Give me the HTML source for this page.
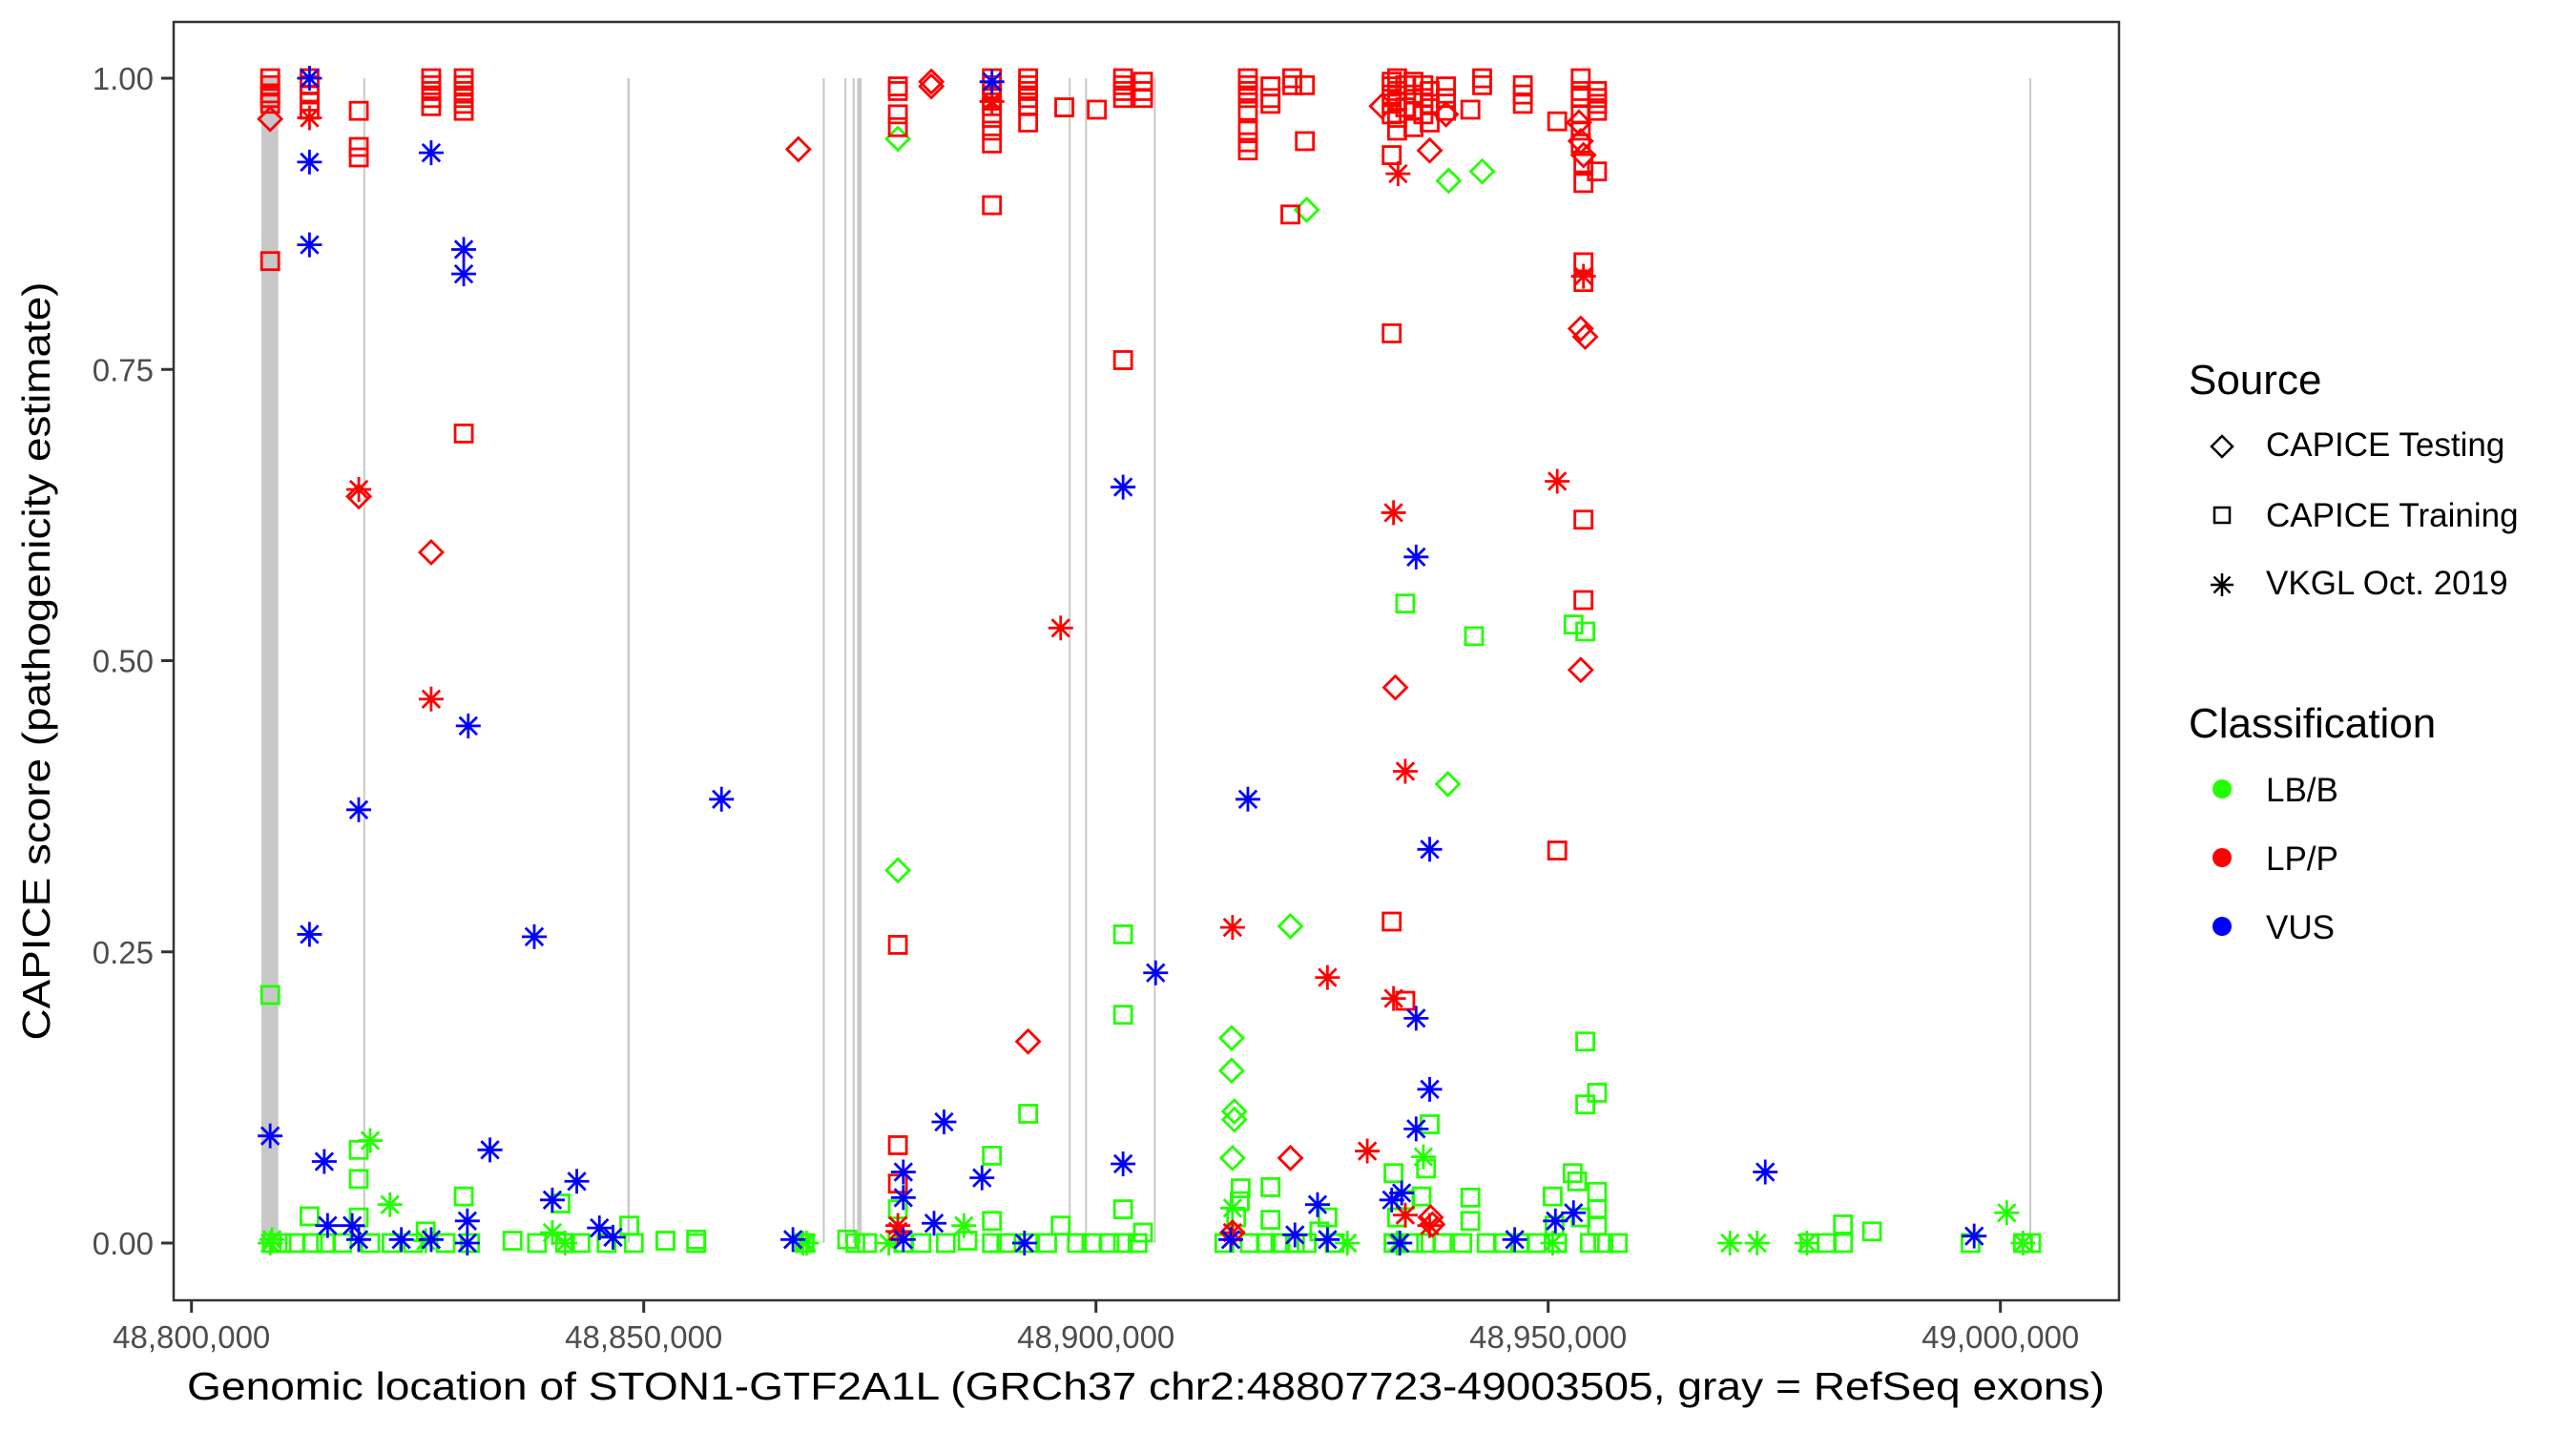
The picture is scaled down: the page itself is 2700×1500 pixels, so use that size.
<!DOCTYPE html>
<html><head><meta charset="utf-8"><style>
html,body{margin:0;padding:0;background:#fff;}
svg{display:block;font-family:"Liberation Sans",Arial,sans-serif;}
</style></head><body>
<svg id="chart" width="2700" height="1500" viewBox="0 0 2700 1500">
<rect x="0" y="0" width="2700" height="1500" fill="#fff"/>
<g id="exons"></g>
<g id="points"></g>
<rect x="182" y="23" width="2039" height="1340" fill="none" stroke="#333" stroke-width="2.5"/>
<g id="xaxis"></g>
<g id="yaxis"></g>
<text x="1201" y="1467" font-size="41" text-anchor="middle" textLength="2010" lengthAdjust="spacingAndGlyphs" fill="#000">Genomic location of STON1-GTF2A1L (GRCh37 chr2:48807723-49003505, gray = RefSeq exons)</text>
<text transform="translate(52,693) rotate(-90)" font-size="41" text-anchor="middle" textLength="795" lengthAdjust="spacingAndGlyphs" fill="#000">CAPICE score (pathogenicity estimate)</text>
<g id="legend">
<text x="2294" y="413" font-size="44" fill="#000">Source</text>
<g>
<path d="M2329,457 L2340,468 L2329,479 L2318,468 Z" fill="none" stroke="#000" stroke-width="2.5"/>
<text x="2375" y="478" font-size="35" fill="#000">CAPICE Testing</text></g>
<g>
<rect x="2321" y="532" width="16" height="16" fill="none" stroke="#000" stroke-width="2.5"/>
<text x="2375" y="552" font-size="35" fill="#000">CAPICE Training</text></g>
<g>
<path d="M2329,601 v24 M2317,613 h24 M2320.5,604.5 l17,17 M2337.5,604.5 l-17,17" stroke="#000" stroke-width="2.5"/>
<text x="2375" y="623" font-size="35" fill="#000">VKGL Oct. 2019</text></g>
<text x="2294" y="773" font-size="44" fill="#000">Classification</text>
<g><circle cx="2329" cy="827" r="10" fill="#22ff00"/><text x="2375" y="840" font-size="35" fill="#000">LB/B</text></g>
<g><circle cx="2329" cy="899" r="10" fill="#ff0000"/><text x="2375" y="912" font-size="35" fill="#000">LP/P</text></g>
<g><circle cx="2329" cy="971" r="10" fill="#0000ff"/><text x="2375" y="984" font-size="35" fill="#000">VUS</text></g>
</g>
</svg>
<script>
// positions in kb offset from 48,800,000
const xTicks = [48800000, 48850000, 48900000, 48950000, 49000000];
const xTickLabels = ["48,800,000","48,850,000","48,900,000","48,950,000","49,000,000"];
const yTicks = [0, 0.25, 0.5, 0.75, 1.0];
const yTickLabels = ["0.00","0.25","0.50","0.75","1.00"];
const exonStarts = [7.72, 19.0, 48.2, 69.8, 72.2, 73.1, 73.6, 97.0, 98.8, 106.4, 203.2];
const exonEnds   = [9.6, 19.15, 48.45, 69.95, 72.35, 73.25, 74.1, 97.2, 98.95, 106.55, 203.35];

const trainingLPPos = [8.7,8.7,8.7,8.7,8.7,8.7,13.05,13.05,13.05,13.05,13.05,18.5,18.5,18.5,26.5,26.5,26.5,26.5,26.5,30.1,30.1,30.1,30.1,30.1,30.1,30.1,78.1,78.1,78.1,78.1,78.1,78.1,78.1,88.5,88.5,88.5,88.5,88.5,88.5,88.5,88.5,88.5,92.5,92.5,92.5,92.5,92.5,92.5,96.5,100.1,103.0,103.0,103.0,103.0,103.0,105.2,105.2,105.2,116.8,116.8,116.8,116.8,116.8,116.8,116.8,116.8,119.3,119.3,119.3,121.7,121.7,121.5,123.1,123.1,132.7,132.7,132.7,132.7,132.7,132.7,132.7,132.7,133.3,133.3,133.3,133.3,133.3,134.2,134.2,134.2,135.1,135.1,135.1,135.1,136.2,136.2,136.2,136.9,136.9,136.9,138.7,138.7,138.7,141.4,142.7,142.7,147.2,147.2,147.2,151.0,151.0,153.6,153.6,153.6,153.6,153.6,153.6,153.9,153.9,153.9,153.9,153.9,153.9,155.4,155.4,155.4,155.4,155.4];
const trainingLPScore = [1.0,0.994,0.987,0.983,0.978,0.843,1.0,0.994,0.986,0.98,0.973,0.972,0.941,0.932,1.0,0.994,0.989,0.983,0.976,1.0,0.994,0.989,0.983,0.978,0.972,0.695,0.993,0.989,0.969,0.958,0.256,0.084,0.051,1.0,0.994,0.989,0.983,0.976,0.966,0.955,0.944,0.891,1.0,0.994,0.989,0.983,0.976,0.962,0.975,0.973,1.0,0.994,0.989,0.983,0.758,0.997,0.989,0.983,1.0,0.994,0.989,0.983,0.972,0.955,0.945,0.938,0.993,0.983,0.978,1.0,0.994,0.883,0.994,0.946,0.997,0.993,0.986,0.978,0.969,0.934,0.781,0.276,1.0,0.989,0.98,0.966,0.955,0.208,0.994,0.975,0.997,0.986,0.972,0.958,0.994,0.983,0.969,0.989,0.978,0.962,0.993,0.983,0.972,0.973,1.0,0.994,0.994,0.986,0.978,0.963,0.337,1.0,0.989,0.983,0.969,0.955,0.944,0.927,0.842,0.825,0.621,0.552,0.910,0.989,0.983,0.978,0.972,0.920];
const testingLPPos = [8.7,18.5,26.5,67.1,81.8,81.8,92.5,121.5,131.6,133.1,136.9,138.7,137.2,137.0,153.6,154.1,153.6,153.6,153.9,153.4,115.1];
const testingLPScore = [0.965,0.641,0.593,0.939,0.997,0.993,0.173,0.073,0.976,0.477,0.938,0.969,0.016,0.022,0.785,0.778,0.492,0.946,0.934,0.962,0.009];
const vkglLPPos = [13.05,18.5,26.5,96.1,88.5,115.1,115.1,125.6,130.0,132.9,132.9,133.4,134.2,134.2,151.0,153.9,136.9,78.1,78.1];
const vkglLPScore = [0.966,0.647,0.467,0.528,0.98,0.009,0.271,0.228,0.079,0.627,0.21,0.918,0.405,0.024,0.654,0.83,0.015,0.015,0.01];
const vkglVUSPos = [8.7,13.05,13.05,13.05,13.05,14.68,15.05,17.77,18.49,18.49,23.2,26.5,26.5,30.1,30.1,30.6,30.5,30.5,33.0,37.9,39.9,42.6,45.1,46.6,58.6,66.5,78.7,78.7,78.7,82.1,83.2,87.4,88.5,92.1,103.0,103.0,106.6,114.9,116.8,122.0,124.5,125.6,132.7,133.6,133.8,135.4,135.4,136.9,136.9,135.4,146.3,150.8,152.8,174.0,197.1];
const vkglVUSScore = [0.092,1.0,0.928,0.857,0.265,0.070,0.015,0.015,0.372,0.003,0.003,0.936,0.003,0.853,0.832,0.444,0.019,0.0,0.080,0.263,0.037,0.053,0.013,0.005,0.381,0.003,0.061,0.039,0.003,0.017,0.104,0.056,0.997,0.0,0.649,0.068,0.232,0.003,0.381,0.007,0.033,0.003,0.037,0.0,0.043,0.589,0.193,0.338,0.132,0.098,0.003,0.019,0.026,0.061,0.006];
const trainingLBPos = [8.7,8.88,9.97,11.42,13.05,13.42,14.87,16.68,18.49,18.49,18.49,19.76,22.12,24.5,25.9,28.1,30.1,30.8,35.5,38.2,40.8,41.3,43.0,45.9,48.4,48.9,52.4,55.8,55.8,67.8,72.5,73.4,74.7,78.1,78.7,80.7,83.4,85.8,88.5,88.5,88.5,90.1,92.5,92.5,94.6,96.1,97.9,99.5,101.5,103.0,103.0,103.0,103.0,104.6,105.2,114.2,115.5,115.9,116.0,117.0,118.8,119.3,119.3,120.4,122.0,123.3,124.7,125.6,126.4,132.9,132.9,133.3,134.2,134.2,135.1,136.0,136.5,136.9,136.5,138.3,140.5,141.4,141.4,141.8,143.2,145.0,146.9,148.7,150.5,150.7,151.0,152.7,152.8,153.2,153.6,154.1,154.1,154.1,154.6,155.4,155.4,155.4,155.4,156.1,157.7,178.9,180.8,182.6,182.6,185.8,196.7,202.5,203.4];
const trainingLBScore = [0.213,0,0,0,0.023,0,0,0,0.080,0.055,0.022,0,0,0,0.010,0,0.040,0,0.002,0,0.034,0,0,0,0.015,0,0.002,0.003,0,0,0.003,0,0,0.029,0,0,0,0.002,0.075,0.019,0,0,0.111,0,0,0.015,0,0,0,0.265,0.196,0.029,0,0,0.009,0,0.022,0.036,0.047,0,0,0.048,0.020,0,0,0,0.010,0.022,0,0.060,0,0.022,0.549,0.037,0,0.040,0.064,0.102,0,0,0,0.019,0.039,0.521,0,0,0,0,0.040,0.015,0,0.060,0.531,0.053,0.022,0.173,0.119,0.525,0,0.129,0.044,0.029,0.015,0,0,0,0,0.016,0,0.010,0,0,0];
const testingLBPos = [78.1,78.1,115.0,115.0,115.3,115.3,115.1,123.3,121.5,139.0,142.7,138.9];
const testingLBScore = [0.948,0.320,0.176,0.148,0.113,0.106,0.073,0.887,0.272,0.912,0.92,0.394];
const vkglLBPos = [8.7,8.9,19.76,21.94,25.9,39.9,41.3,68.0,77.1,85.4,127.8,136.2,170.1,173.1,178.6,200.7,202.5,67.6,133.3,150.5,115.1];
const vkglLBScore = [0,0.003,0.088,0.033,0.002,0.009,0,0,0,0.015,0,0.074,0,0,0,0.026,0,0,0,0,0.03];

const NS = "http://www.w3.org/2000/svg";
function xScale(kb){ return 200.7 + kb * 9.48; }
function xScaleAbs(bp){ return xScale((bp - 48800000) / 1000); }
function yScale(v){ return 1303 - v * 1221; }
const GREEN = "#22ff00", RED = "#ff0000", BLUE = "#0000ff";

const exG = document.getElementById("exons");
for (let i = 0; i < exonStarts.length; i++) {
  const r = document.createElementNS(NS, "rect");
  const x0 = xScale(exonStarts[i]), x1 = xScale(exonEnds[i]);
  r.setAttribute("x", x0); r.setAttribute("y", yScale(1.0));
  r.setAttribute("width", Math.max(2, x1 - x0)); r.setAttribute("height", yScale(0) - yScale(1.0));
  r.setAttribute("fill", "#c8c8c8");
  
  
  exG.appendChild(r);
}

const ptG = document.getElementById("points");
function drawMarker(shape, kb, v, color) {
  const cx = xScale(kb), cy = yScale(v);
  let el;
  if (shape === "square") {
    el = document.createElementNS(NS, "rect");
    el.setAttribute("x", cx - 9); el.setAttribute("y", cy - 9);
    el.setAttribute("width", 18); el.setAttribute("height", 18);
    el.setAttribute("fill", "none");
  } else if (shape === "diamond") {
    el = document.createElementNS(NS, "path");
    el.setAttribute("d", `M${cx},${cy-12} L${cx+12},${cy} L${cx},${cy+12} L${cx-12},${cy} Z`);
    el.setAttribute("fill", "none");
  } else {
    el = document.createElementNS(NS, "path");
    const r = 13, d = 9.2;
    el.setAttribute("d", `M${cx},${cy-r} V${cy+r} M${cx-r},${cy} H${cx+r} M${cx-d},${cy-d} L${cx+d},${cy+d} M${cx+d},${cy-d} L${cx-d},${cy+d}`);
  }
  el.setAttribute("stroke", color);
  el.setAttribute("stroke-width", "2.8");
  
  
  ptG.appendChild(el);
}
function drawSeries(shape, pos, sc, color) {
  for (let i = 0; i < pos.length; i++) drawMarker(shape, pos[i], sc[i], color);
}
drawSeries("square", trainingLBPos, trainingLBScore, GREEN);
drawSeries("diamond", testingLBPos, testingLBScore, GREEN);
drawSeries("star", vkglLBPos, vkglLBScore, GREEN);
drawSeries("square", trainingLPPos, trainingLPScore, RED);
drawSeries("diamond", testingLPPos, testingLPScore, RED);
drawSeries("star", vkglLPPos, vkglLPScore, RED);
drawSeries("star", vkglVUSPos, vkglVUSScore, BLUE);

const xa = document.getElementById("xaxis");
for (let i = 0; i < xTicks.length; i++) {
  const x = xScaleAbs(xTicks[i]);
  const t = document.createElementNS(NS, "line");
  t.setAttribute("x1", x); t.setAttribute("x2", x); t.setAttribute("y1", 1363); t.setAttribute("y2", 1376);
  t.setAttribute("stroke", "#333"); t.setAttribute("stroke-width", "3");
  
  
  xa.appendChild(t);
  const tx = document.createElementNS(NS, "text");
  tx.setAttribute("x", x); tx.setAttribute("y", 1413);
  tx.setAttribute("font-size", "33"); tx.setAttribute("text-anchor", "middle"); tx.setAttribute("fill", "#4d4d4d");
  tx.textContent = xTickLabels[i];
  
  
  xa.appendChild(tx);
}
const ya = document.getElementById("yaxis");
for (let i = 0; i < yTicks.length; i++) {
  const y = yScale(yTicks[i]);
  const t = document.createElementNS(NS, "line");
  t.setAttribute("x1", 169); t.setAttribute("x2", 182); t.setAttribute("y1", y); t.setAttribute("y2", y);
  t.setAttribute("stroke", "#333"); t.setAttribute("stroke-width", "3");
  
  
  ya.appendChild(t);
  const tx = document.createElementNS(NS, "text");
  tx.setAttribute("x", 161); tx.setAttribute("y", y + 12);
  tx.setAttribute("font-size", "33"); tx.setAttribute("text-anchor", "end"); tx.setAttribute("fill", "#4d4d4d");
  tx.textContent = yTickLabels[i];
  
  
  ya.appendChild(tx);
}
</script>
</body></html>
